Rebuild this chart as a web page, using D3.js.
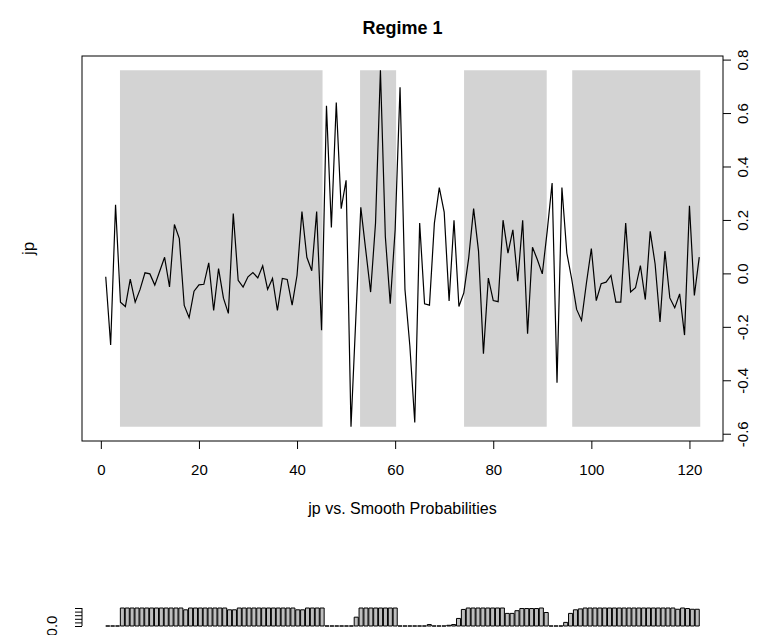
<!DOCTYPE html>
<html>
<head>
<meta charset="utf-8">
<script src="https://cdn.jsdelivr.net/npm/d3@7"></script>
<style>
  body { margin: 0; background: #fff; }
  text { font-family: "Liberation Sans", Arial, sans-serif; }
</style>
</head>
<body>
<div id="chart"></div>
<script>
// jp series, t = 1..122
var jp = [-0.011, -0.266, 0.259, -0.106, -0.122, -0.02, -0.106, -0.058, 0.004, 0.0,
  -0.042, 0.01, 0.062, -0.049, 0.185, 0.132, -0.118, -0.164, -0.065, -0.041,
  -0.039, 0.041, -0.137, 0.02, -0.091, -0.148, 0.226, -0.024, -0.049, -0.011,
  0.005, -0.015, 0.03, -0.058, -0.017, -0.137, -0.017, -0.021, -0.117, -0.005,
  0.233, 0.062, 0.012, 0.233, -0.211, 0.629, 0.174, 0.641, 0.244, 0.35,
  -0.572, -0.16, 0.249, 0.09, -0.068, 0.19, 0.762, 0.14, -0.112, 0.165,
  0.698, -0.058, -0.27, -0.556, 0.19, -0.112, -0.117, 0.19, 0.323, 0.231,
  -0.101, 0.201, -0.122, -0.071, 0.06, 0.244, 0.085, -0.299, -0.016, -0.1,
  -0.104, 0.201, 0.078, 0.165, -0.027, 0.201, -0.224, 0.1, 0.053, 0.0,
  0.16, 0.34, -0.407, 0.323, 0.078, -0.02, -0.133, -0.174, -0.034, 0.095,
  -0.1, -0.037, -0.031, -0.006, -0.106, -0.106, 0.19, -0.068, -0.052, 0.031,
  -0.096, 0.159, 0.037, -0.18, 0.085, -0.09, -0.127, -0.075, -0.229, 0.255,
  -0.081, 0.063];

// smoothed probabilities of regime 1
var prob = [0, 0, 0, 1, 1, 1, 1, 1, 1, 1,
  1, 1, 1, 1, 1, 1, 0.9, 1, 1, 1,
  1, 1, 1, 1, 1, 0.9, 0.9, 1, 1, 1,
  1, 1, 1, 1, 1, 1, 1, 1, 1, 0.9,
  0.9, 1, 1, 1, 1, 0, 0, 0, 0, 0,
  0, 0.49, 1, 1, 1, 1, 1, 1, 1, 1,
  0, 0, 0, 0, 0, 0, 0.08, 0, 0, 0,
  0.04, 0.08, 0.42, 0.92, 1, 1, 1, 1, 1, 1,
  1, 1, 0.7, 0.7, 0.85, 0.97, 0.97, 0.97, 0.97, 1,
  0.75, 0, 0, 0, 0.2, 0.7, 0.9, 0.95, 1, 1,
  1, 1, 1, 1, 1, 1, 1, 1, 1, 1,
  1, 1, 1, 1, 1, 1, 1, 0.93, 1, 0.97,
  0.93, 0.93];

// shaded regime-1 periods
var regStart = [3.9, 52.85, 74.05, 96.1];
var regEnd = [45.2, 60.2, 90.9, 122.2];

var xTicks = [0, 20, 40, 60, 80, 100, 120];
var yTicks = [-0.6, -0.4, -0.2, 0.0, 0.2, 0.4, 0.6, 0.8];
var pTicks = [0, 0.2, 0.4, 0.6, 0.8, 1];

var W = 761, H = 635;
var mLeft = 82, mRight = 723, mTop = 56, mBottom = 441;
var fnt = "Liberation Sans, Arial, sans-serif";

var svg = d3.select("#chart").append("svg")
    .attr("width", W)
    .attr("height", H);

var tt = jp.map(function(d, i) { return i + 1; });

// R style 4% extension of the ranges
var xr = d3.extent(tt), yr = d3.extent(jp);
var dx = (xr[1] - xr[0]) * 0.04, dy = (yr[1] - yr[0]) * 0.04;

var x = d3.scaleLinear().domain([xr[0] - dx, xr[1] + dx]).range([mLeft, mRight]);
var y = d3.scaleLinear().domain([yr[0] - dy, yr[1] + dy]).range([mBottom, mTop]);

// shaded regions
svg.selectAll("rect.reg")
    .data(regStart)
    .enter().append("rect")
    .attr("class", "reg")
    .attr("x", function(d) { return x(d); })
    .attr("width", function(d, i) { return x(regEnd[i]) - x(d); })
    .attr("y", y(yr[1]))
    .attr("height", y(yr[0]) - y(yr[1]))
    .attr("fill", "#d3d3d3");

// series line
var line = d3.line()
    .x(function(d, i) { return x(i + 1); })
    .y(function(d) { return y(d); });

svg.append("path")
    .datum(jp)
    .attr("d", line)
    .attr("fill", "none")
    .attr("stroke", "#000")
    .attr("stroke-width", 1.2);

// box
svg.append("rect")
    .attr("x", mLeft).attr("y", mTop)
    .attr("width", mRight - mLeft).attr("height", mBottom - mTop)
    .attr("fill", "none").attr("stroke", "#000").attr("stroke-width", 1);

// bottom axis
var xAxis = d3.axisBottom(x).tickValues(xTicks).tickSize(8).tickPadding(15)
    .tickFormat(function(d) { return d; });
var gx = svg.append("g").attr("transform", "translate(0," + mBottom + ")").call(xAxis);
gx.select(".domain").remove();
gx.selectAll("text").attr("font-size", "15px").attr("font-family", fnt);

// right axis, rotated labels
var yAxis = d3.axisRight(y).tickValues(yTicks).tickSize(8)
    .tickFormat(function(d) { return d.toFixed(1); });
var gy = svg.append("g").attr("transform", "translate(" + mRight + ",0)").call(yAxis);
gy.select(".domain").remove();
gy.selectAll(".tick").attr("transform", null);
gy.selectAll(".tick line")
    .attr("y1", function(d) { return y(d); })
    .attr("y2", function(d) { return y(d); });
gy.selectAll(".tick text")
    .attr("x", null).attr("y", null).attr("dy", "0.35em")
    .attr("text-anchor", "middle")
    .attr("transform", function(d) { return "translate(20," + y(d) + ") rotate(-90)"; })
    .attr("font-size", "15px").attr("font-family", fnt);

// titles
svg.append("text")
    .attr("x", (mLeft + mRight) / 2).attr("y", 34)
    .attr("text-anchor", "middle")
    .attr("font-size", "18px").attr("font-weight", "bold")
    .text("Regime 1");

svg.append("text")
    .attr("x", (mLeft + mRight) / 2).attr("y", 514)
    .attr("text-anchor", "middle")
    .attr("font-size", "16px")
    .text("jp vs. Smooth Probabilities");

svg.append("text")
    .attr("transform", "translate(34," + (mTop + mBottom) / 2 + ") rotate(-90)")
    .attr("text-anchor", "middle")
    .attr("font-size", "17px")
    .text("jp");

// second panel: barplot of probabilities (partly visible)
var pTop = 608, pBot = 626;
var bw = (mRight - mLeft) / 1.08;
var xb = d3.scaleBand()
    .domain(tt)
    .range([mLeft + (mRight - mLeft - bw) / 2, mRight - (mRight - mLeft - bw) / 2])
    .paddingInner(0.2 / 1.2)
    .paddingOuter(0);
var yb = d3.scaleLinear().domain([0, 1]).range([pBot, pTop]);

svg.selectAll("path.bar")
    .data(prob)
    .enter().append("path")
    .attr("class", "bar")
    .attr("d", function(d, i) {
        var x0 = xb(i + 1), x1 = x0 + xb.bandwidth();
        return "M" + x0 + "," + yb(0) + "V" + yb(d) + "H" + x1 + "V" + yb(0) + "Z";
    })
    .attr("fill", "#bebebe")
    .attr("stroke", "#000")
    .attr("stroke-width", 1);

var pAxis = d3.axisLeft(yb).tickValues(pTicks).tickSize(7).tickFormat("");
var gp = svg.append("g").attr("transform", "translate(" + mLeft + ",0)").call(pAxis);
gp.select(".domain").attr("d", "M0," + yb(0) + "V" + yb(1));

svg.append("text")
    .attr("transform", "translate(52," + yb(0) + ") rotate(-90)")
    .attr("text-anchor", "middle")
    .attr("dy", "0.35em")
    .attr("font-size", "15px")
    .text("0.0");
</script>
</body>
</html>
